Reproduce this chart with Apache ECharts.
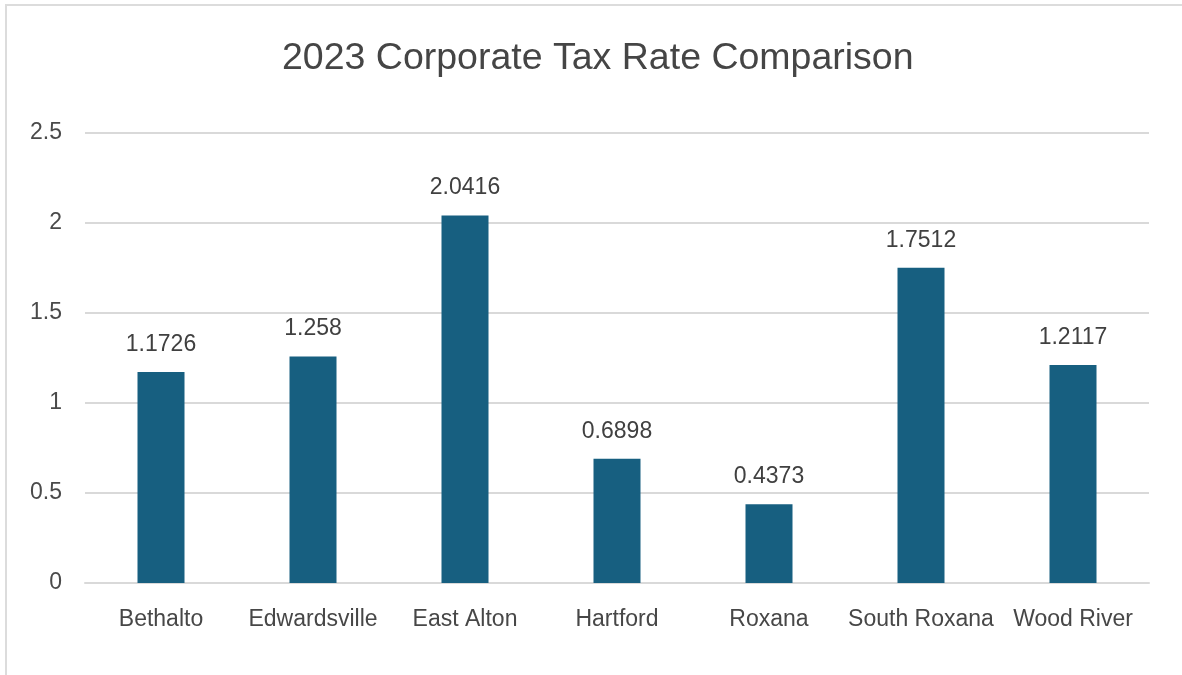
<!DOCTYPE html>
<html>
<head>
<meta charset="utf-8">
<script src="https://cdn.jsdelivr.net/npm/echarts@6/dist/echarts.min.js"></script>
<style>
html,body{margin:0;padding:0;background:#fff;overflow:hidden;}
#frame{position:absolute;left:5px;top:4px;width:1200px;height:700px;border:2px solid #dcdcdc;box-sizing:border-box;}
#chart{position:absolute;left:0;top:0;width:1182px;height:675px;}
</style>
</head>
<body>
<div id="frame"></div>
<div id="chart"></div>
<script>
const titleText = '2023 Corporate Tax Rate Comparison';
const categories = ['Bethalto','Edwardsville','East Alton','Hartford','Roxana','South Roxana','Wood River'];
const taxRates = [1.1726, 1.258, 2.0416, 0.6898, 0.4373, 1.7512, 1.2117];
const yTicks = [0, 0.5, 1, 1.5, 2, 2.5];

const chart = echarts.init(document.getElementById('chart'), null, {renderer:'canvas'});
chart.setOption({
  animation:false,
  backgroundColor:'transparent',
  title:{
    text:titleText,
    left:277,
    top:35,
    textStyle:{fontFamily:'Liberation Sans, Arial, sans-serif',fontSize:37.5,fontWeight:'normal',color:'#454545'}
  },
  grid:{left:85,right:33,top:133,bottom:92,containLabel:false},
  xAxis:{
    type:'category',
    data:categories,
    axisLine:{show:true,lineStyle:{color:'#d9d9d9',width:2}},
    axisTick:{show:false},
    axisLabel:{margin:25,fontFamily:'Liberation Sans, Arial, sans-serif',fontSize:23,color:'#474747',interval:0}
  },
  yAxis:{
    type:'value',
    min:yTicks[0],
    max:yTicks[yTicks.length-1],
    interval:yTicks[1]-yTicks[0],
    axisLine:{show:false},
    axisTick:{show:false},
    splitLine:{lineStyle:{color:'#d9d9d9',width:2}},
    axisLabel:{margin:23,fontFamily:'Liberation Sans, Arial, sans-serif',fontSize:23,color:'#4a4a4a',
      padding:[2,0,0,0],
      formatter:function(v){return String(v);}}
  },
  series:[{
    type:'bar',
    data:taxRates,
    barWidth:47,
    itemStyle:{color:'#175f80'},
    label:{show:true,position:'top',distance:16,fontFamily:'Liberation Sans, Arial, sans-serif',fontSize:23,color:'#404040',
      formatter:function(p){return String(p.value);}}
  }]
});
</script>
</body>
</html>
